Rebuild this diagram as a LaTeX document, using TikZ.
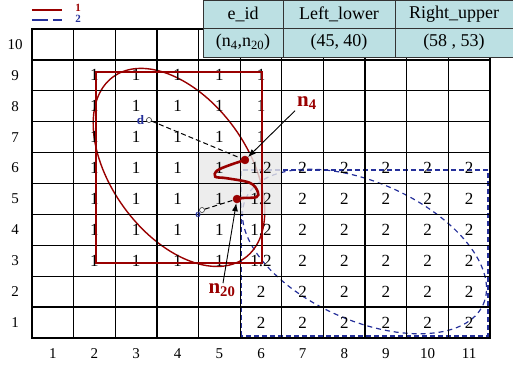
\documentclass[tikz,border=0pt]{standalone}
\usepackage{fontspec}
\setmainfont{Liberation Serif}
\usetikzlibrary{arrows.meta,positioning}
\definecolor{ered}{HTML}{990000}
\definecolor{eblue}{HTML}{25309A}
\definecolor{tblfill}{HTML}{BCE0E3}
\tikzset{
  num/.style={font=\fontsize{17}{17}\selectfont, inner sep=0pt},
  axl/.style={font=\fontsize{15}{15}\selectfont, inner sep=0pt},
  tcell/.style={draw=black!80, fill=tblfill, line width=0.8pt, minimum width=#1, inner sep=0pt, outer sep=0pt, font=\fontsize{18}{18}\selectfont},
  redln/.style={draw=ered, line width=1.4pt},
  blueln/.style={draw=eblue, line width=1.4pt, dash pattern=on 5pt off 3pt},
  dot/.style={circle, fill=ered, draw=ered, minimum size=8pt, inner sep=0pt},
  qpt/.style={circle, fill=white, draw=black!80, line width=0.6pt, minimum size=5pt, inner sep=0pt},
  qlbl/.style={text=eblue, font=\bfseries\fontsize{13}{13}\selectfont, inner sep=0pt},
  elbl/.style={text=ered, font=\bfseries\fontsize{21}{21}\selectfont, inner sep=0pt},
  dashln/.style={black, line width=1pt, dash pattern=on 5pt off 3pt},
  ptr/.style={-{Latex[length=8pt,width=6pt]}, line width=0.9pt},
  wiggle/.style={draw=ered, line width=2.6pt, line cap=round},
  gridln/.style={line width=1.3pt},
}

\begin{document}
\begin{tikzpicture}[x=41.64pt, y=30.9pt]
  \useasboundingbox (-0.7685,-1.0356) rectangle (11.552,10.939);

  % legend
  \draw[ered, line width=1.4pt] (0,10.615) -- (0.72,10.615);
  \draw[eblue, line width=2.6pt, dash pattern=on 16pt off 5pt] (0,10.291) -- (0.72,10.291);
  \node[text=ered, font=\bfseries\fontsize{11}{11}\selectfont, inner sep=0pt] (lg1) at (1.105,10.68) {1};
  \node[text=eblue, font=\bfseries\fontsize{11}{11}\selectfont, inner sep=0pt] (lg2) at (1.105,10.324) {2};

  % regions
  \draw[blueln] (5.019,0.065) rectangle (10.951,5.437);
  \draw[eblue, line width=1.2pt, dash pattern=on 5pt off 4pt, rotate around={-24:(7.985,2.799)}]
    (7.985,2.799) ellipse [x radius=130pt, y radius=69pt];
  \draw[redln, rotate around={-54:(3.530,5.52)}]
    (3.530,5.52) ellipse [x radius=112pt, y radius=68pt];
  \fill[black!9, fill opacity=0.8] (4,4) rectangle (6,6);

  % grid
  \foreach \c in {1,...,10}
    \draw[gridln] (\c,0) -- (\c,10);
  \foreach \r in {1,...,9}
    \draw[gridln] (0,\r) -- (11,\r);
  \draw[line width=1.9pt] (0,0) rectangle (11,10);

  \foreach \r in {1,...,10}
    \node[axl] (row-\r) at (-0.408,\r-0.5) {\r};
  \foreach \c in {1,...,11}
    \node[axl] (col-\c) at (\c-0.5,-0.518) {\c};

  % cell values
  \foreach \r in {7,8,9}
    \foreach \c in {2,...,6}
      \node[num] (v-\c-\r) at (\c-0.5,\r-0.5) {1};
  \foreach \r in {3,...,6} {
    \foreach \c in {2,...,5}
      \node[num] (v-\c-\r) at (\c-0.5,\r-0.5) {1};
    \node[num] (v-6-\r) at (5.5,\r-0.5) {1.2};
    \foreach \c in {7,...,11}
      \node[num] (v-\c-\r) at (\c-0.5,\r-0.5) {2};
  }
  \foreach \r in {1,2}
    \foreach \c in {6,...,11}
      \node[num] (v-\c-\r) at (\c-0.5,\r-0.5) {2};

  \draw[redln] (1.537,2.427) rectangle (5.524,8.608);

  % table
  \node[tcell=80pt, minimum height=28pt, anchor=north west] (th1) at (4.107,10.939) {e\_id};
  \node[tcell=112pt, minimum height=28pt, right=0pt of th1] (th2) {Left\_lower};
  \node[tcell=118pt, minimum height=28pt, right=0pt of th2] (th3) {Right\_upper};
  \node[tcell=80pt, minimum height=29pt, below=0pt of th1] (td1) {(n\textsubscript{4},n\textsubscript{20})};
  \node[tcell=112pt, minimum height=29pt, below=0pt of th2] (td2) {(45, 40)};
  \node[tcell=118pt, minimum height=29pt, below=0pt of th3] (td3) {(58 , 53)};

  % query points and edge
  \node[qpt] (d) at (2.810,7.055) {};
  \node[qlbl, left=2pt of d] (dlbl) {d};
  \node[qpt] (o) at (4.083,4.142) {};
  \node[qlbl, font=\bfseries\fontsize{11}{11}\selectfont, below left=0pt and -1pt of o] (olbl) {o};

  \node[dot] (n4) at (5.115,5.761) {};
  \node[dot] (n20) at (4.923,4.498) {};
  \draw[wiggle] plot[smooth, tension=0.6] coordinates {(n4.center) (4.755,5.60) (4.45,5.42)
    (4.40,5.22) (4.68,5.17) (5.235,5.02) (5.42,4.74) (5.39,4.56) (5.067,4.531) (n20.center)};

  \draw[dashln] (d) -- (n4);
  \draw[dashln] (o) -- (n20);

  \node[elbl] (n4lbl) at (6.604,7.605) {n\textsubscript{4}};
  \node[elbl] (n20lbl) at (4.563,1.553) {n\textsubscript{20}};
  \draw[ptr] ([shift={(-2pt,-1pt)}]n4lbl.south west) -- (n4);
  \draw[ptr] ([xshift=1pt]n20lbl.north) -- (n20);
\end{tikzpicture}
\end{document}
